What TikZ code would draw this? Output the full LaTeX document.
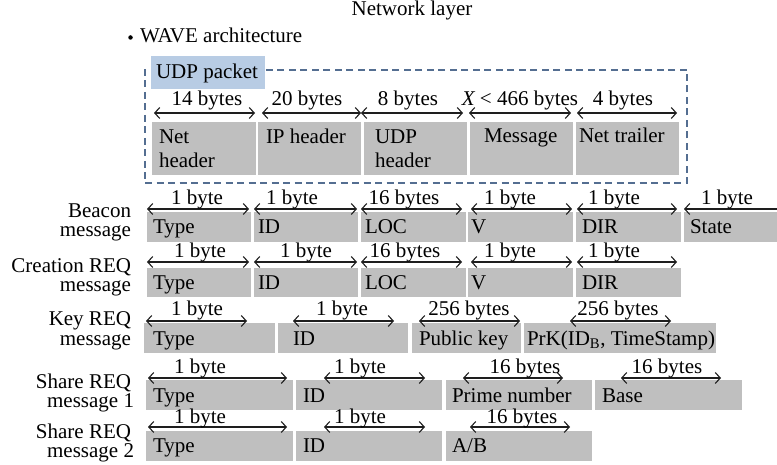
\documentclass[tikz,border=0pt]{standalone}
\usepackage{fontspec}
\setmainfont{Liberation Serif}
\usetikzlibrary{arrows.meta}
\definecolor{boxgray}{RGB}{191,191,191}
\definecolor{dashblue}{RGB}{84,110,145}
\definecolor{udpblue}{RGB}{184,204,228}
\definecolor{arrowc}{RGB}{30,30,30}
\newcommand\fld[5]{%
  \pgfmathsetmacro\fldw{#4-#2}\pgfmathsetmacro\fldh{#5-#3}%
  \node[fieldbox, minimum width=\fldw pt, minimum height=\fldh pt, anchor=north west] (#1) at (#2,#3) {};}
\newcommand\dimarr[7]{%
  \coordinate (#1l) at (#2,#4); \coordinate (#1r) at (#3,#4);
  \draw[dimline] (#1l) -- (#1r);
  \node[dimlab] (#1t) at (#5,#6) {#7};}
\begin{document}
\begin{tikzpicture}[x=1pt,y=-1pt,
  every node/.style={font=\fontsize{21}{19}\selectfont, inner sep=0pt, outer sep=0pt},
  fieldbox/.style={fill=boxgray, draw=none, inner sep=0pt, rectangle},
  txt/.style={anchor=base west},
  dimline/.style={draw=arrowc, line width=1.1pt, {Straight Barb[length=5pt,width=11pt]}-{Straight Barb[length=5pt,width=11pt]}},
  dimlab/.style={anchor=base},
  rowlab/.style={anchor=base east},
]
\useasboundingbox (0,0) rectangle (777,465);
% header
\node[anchor=base] (title) at (412,16) {Network layer};
\node[circle, fill=black, minimum size=4.5pt] (bullet) at (130.5,37.5) {};
\node[txt] (wave) at (140,43) {WAVE architecture};
% UDP frame
\node[draw=dashblue, line width=1.3pt, dash pattern=on 7pt off 4.5pt, minimum width=542pt, minimum height=113pt, anchor=north west] (udpframe) at (145,70) {};
\node[fill=udpblue, minimum width=114pt, minimum height=33pt, anchor=north west] (udpbox) at (151,56) {};
\node[txt] (udptxt) at (156,79) {UDP packet};
% packet fields
\fld{nh}{152}{122}{256}{175}
\fld{iph}{258}{122}{361}{175}
\fld{udph}{364}{122}{467}{175}
\fld{msg}{470}{122}{573}{175}
\fld{ntr}{576}{122}{679}{175}
\node[txt] (nh1) at (159,144) {Net};
\node[txt] (nh2) at (159,168) {header};
\node[txt] (iph1) at (266,144) {IP header};
\node[txt] (udph1) at (375,144) {UDP};
\node[txt] (udph2) at (375,168) {header};
\node[txt] (msg1) at (484,143) {Message};
\node[txt] (ntr1) at (579,143) {Net trailer};
\dimarr{pa}{154}{255}{113}{207}{106}{14 bytes}
\dimarr{pb}{262}{361}{113}{307}{106}{20 bytes}
\dimarr{pc}{361}{463}{113}{408}{106}{8 bytes}
\dimarr{pd}{469}{571}{113}{520}{106}{{\itshape X} < 466 bytes}
\dimarr{pe}{577}{677}{113}{623}{106}{4 bytes}
% Beacon
\node[rowlab] (bl1) at (131,218) {Beacon};
\node[rowlab] (bl2) at (131,237) {message};
\fld{ba}{147}{212}{251}{242}
\fld{bb}{254}{212}{358}{242}
\fld{bc}{361}{212}{466}{242}
\fld{bd}{468}{212}{573}{242}
\fld{be}{576}{212}{681}{242}
\fld{bf}{684}{212}{790}{242}
\node[txt] (bat) at (153,234) {Type};
\node[txt] (bbt) at (258,234) {ID};
\node[txt] (bct) at (365,234) {LOC};
\node[txt] (bdt) at (471,234) {V};
\node[txt] (bet) at (582,234) {DIR};
\node[txt] (bft) at (690,234) {State};
\dimarr{ba}{147}{249}{209}{197}{205}{1 byte}
\dimarr{bb}{254}{357}{209}{292}{205}{1 byte}
\dimarr{bc}{361}{462}{209}{404}{205}{16 bytes}
\dimarr{bd}{471}{572}{209}{510}{205}{1 byte}
\dimarr{be}{577}{677}{209}{614}{205}{1 byte}
\dimarr{bf}{684}{800}{209}{727}{205}{1 byte}
% Creation
\node[rowlab] (cl1) at (131,273) {Creation REQ};
\node[rowlab] (cl2) at (131,292) {message};
\fld{ca}{147}{268}{251}{297}
\fld{cb}{254}{268}{358}{297}
\fld{cc}{361}{268}{466}{297}
\fld{cd}{468}{268}{573}{297}
\fld{ce}{576}{268}{681}{297}
\node[txt] (cat) at (153,290) {Type};
\node[txt] (cbt) at (258,290) {ID};
\node[txt] (cct) at (365,290) {LOC};
\node[txt] (cdt) at (471,290) {V};
\node[txt] (cet) at (582,290) {DIR};
\dimarr{ca}{147}{249}{262}{200}{258}{1 byte}
\dimarr{cb}{254}{357}{262}{306}{258}{1 byte}
\dimarr{cc}{361}{462}{262}{405}{258}{16 bytes}
\dimarr{cd}{471}{572}{262}{510}{258}{1 byte}
\dimarr{ce}{577}{677}{262}{614}{258}{1 byte}
% Key REQ
\node[rowlab] (kl1) at (131,326) {Key REQ};
\node[rowlab] (kl2) at (131,345) {message};
\fld{ka}{144}{323}{275}{353}
\fld{kb}{278}{323}{408}{353}
\fld{kc}{412}{323}{521}{353}
\fld{kd}{524}{323}{716}{353}
\node[txt] (kat) at (153,345) {Type};
\node[txt] (kbt) at (293,345) {ID};
\node[txt] (kct) at (419,345) {Public key};
\node[txt] (kdt) at (527,345) {PrK(ID\textsubscript{B}, TimeStamp)};
\dimarr{ka}{146}{247}{321}{197}{316}{1 byte}
\dimarr{kb}{293}{394}{321}{342}{316}{1 byte}
\dimarr{kc}{419}{520}{321}{469}{316}{256 bytes}
\dimarr{kd}{570}{671}{321}{618}{316}{256 bytes}
% Share REQ 1
\node[rowlab] (sl1) at (131,388) {Share REQ};
\node[rowlab] (sl2) at (134,407) {message 1};
\fld{sa}{146}{380}{293}{410}
\fld{sb}{296}{380}{442}{410}
\fld{sc}{446}{380}{592}{410}
\fld{sd}{595}{380}{742}{410}
\node[txt] (sat) at (153,402) {Type};
\node[txt] (sbt) at (303,402) {ID};
\node[txt] (sct) at (452,402) {Prime number};
\node[txt] (sdt) at (602,402) {Base};
\dimarr{sa}{148}{287}{378}{200}{373}{1 byte}
\dimarr{sb}{324}{425}{378}{360}{373}{1 byte}
\dimarr{sc}{463}{563}{378}{525}{373}{16 bytes}
\dimarr{sd}{621}{721}{378}{667}{373}{16 bytes}
% Share REQ 2
\node[rowlab] (tl1) at (131,438) {Share REQ};
\node[rowlab] (tl2) at (134,457) {message 2};
\fld{ta}{146}{431}{293}{461}
\fld{tb}{296}{431}{442}{461}
\fld{tc}{446}{431}{592}{461}
\node[txt] (tat) at (153,452) {Type};
\node[txt] (tbt) at (303,452) {ID};
\node[txt] (tct) at (452,452) {A/B};
\dimarr{ta}{148}{287}{427}{200}{423}{1 byte}
\dimarr{tb}{324}{425}{427}{360}{423}{1 byte}
\dimarr{tc}{470}{570}{427}{522}{423}{16 bytes}
\end{tikzpicture}
\end{document}
